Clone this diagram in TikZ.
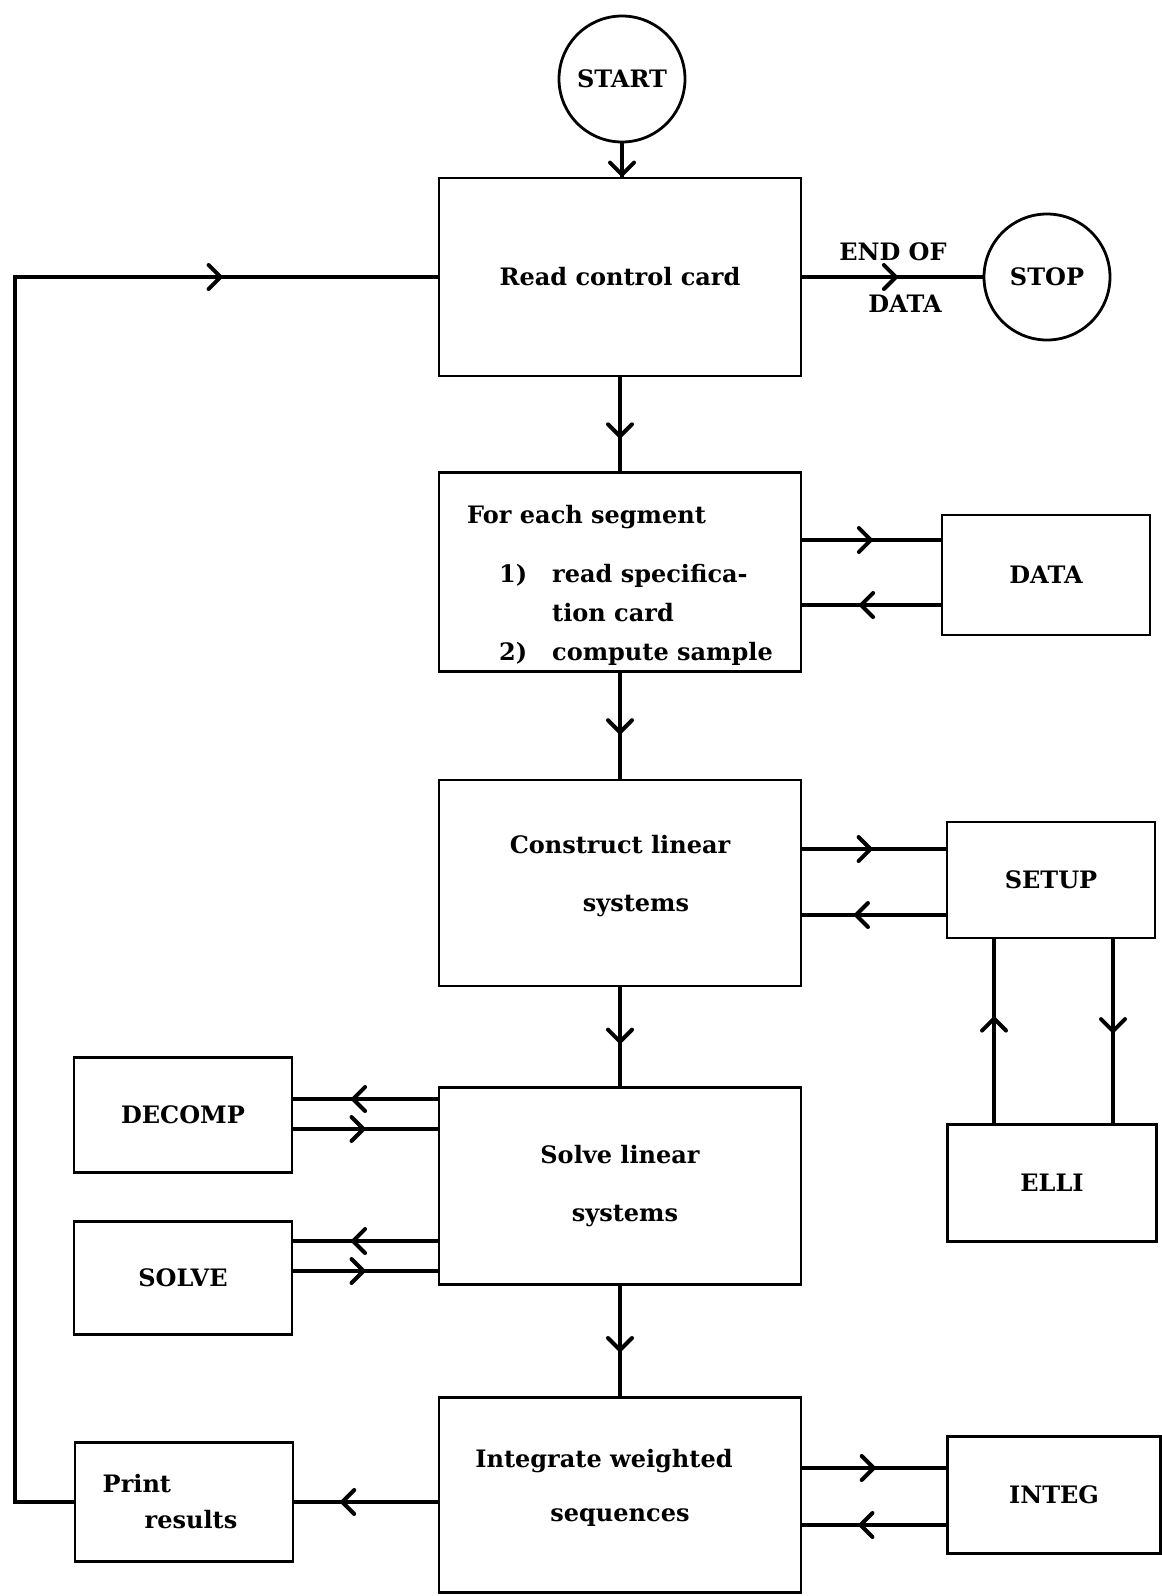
\documentclass[tikz,border=0pt]{standalone}
\usepackage{fontspec}
\setmainfont{DejaVu Serif}
\usetikzlibrary{arrows.meta,positioning,decorations.markings}

\begin{document}
\begin{tikzpicture}[x=1pt,y=-1pt,
  font=\fontsize{24}{36}\selectfont\bfseries,
  box/.style={draw,line width=2.8pt,minimum width=362pt,minimum height=198pt,inner sep=0pt},
  sub/.style={draw,line width=2.8pt,minimum width=212pt,minimum height=117pt,inner sep=0pt},
  term/.style={draw,circle,line width=2.8pt,minimum size=126pt,inner sep=0pt},
  line/.style={line width=3.8pt,line join=miter},
  flow/.style={line,postaction={decorate},
    decoration={markings,mark=at position #1 with {\arrow{Straight Barb[length=12pt,width=24pt,line width=4pt,round]}}}}
]
  \useasboundingbox (0,0) rectangle (1162,1596);

  % main column
  \node[term] (start) at (622,79) {START};
  \node[box] (read) at (620,277) {Read control card};
  \node[term] (stop) at (1047,277) {STOP};
  \node[box,minimum height=199pt,align=left,font=\fontsize{24}{39}\selectfont\bfseries] (seg) at (620,572)
    {\rule{0pt}{44pt}For each segment\\[20pt]
    \hspace*{32pt}\makebox[53pt][l]{1)}read specifica-\\
    \hspace*{85pt}tion card\\
    \hspace*{32pt}\makebox[53pt][l]{2)}compute sample};
  \node[box,minimum height=206pt,align=center] (cons) at (620,883) {Construct linear\\[22pt]\hspace*{32pt}systems\rule[-20pt]{0pt}{0pt}};
  \node[box,minimum height=197pt,align=center] (solve) at (620,1186) {Solve linear\\[22pt]\hspace*{10pt}systems};
  \node[box,minimum height=195pt,align=center] (integ) at (620,1495) {Integrate weighted\hspace*{32pt}\\[18pt]sequences\rule[-20pt]{0pt}{0pt}};

  % subroutines
  \node[sub,minimum width=208pt,minimum height=120pt] (data) at (1046,575) {DATA};
  \node[sub,minimum width=208pt,minimum height=116pt] (setup) at (1051,880) {SETUP};
  \node[sub,minimum width=209pt] (elli) at (1052,1183) {ELLI};
  \node[sub,minimum width=218pt,minimum height=115pt] (decomp) at (183,1115) {DECOMP};
  \node[sub,minimum width=218pt,minimum height=113pt] (solvesub) at (183,1278) {SOLVE};
  \node[sub,minimum width=213pt] (integsub) at (1054,1495) {INTEG};
  \node[sub,minimum width=218pt,minimum height=119pt,align=left] (print) at (184,1502) {Print\\\hspace*{42pt}results\hspace*{28pt}};

  \node (eod) at (893,252) {END OF};
  \node (eodb) at (905,304) {DATA};
  \coordinate (loop) at (15,277);

  % flow
  \draw[flow=1] (start.south) -- (start.south |- read.north);
  \draw[flow=.65] (read) -- (seg);
  \draw[flow=.58] (seg) -- (cons);
  \draw[flow=.57] (cons) -- (solve);
  \draw[flow=.6] (solve) -- (integ);
  \draw[flow=.53] (read.east) -- (stop.west);
  \draw[flow=.68] (integ.west |- print.east) -- (print.east);
  \draw[flow=.874] (print.west) -| (loop) -- (loop -| read.west);

  % calls
  \draw[flow=.51] ([yshift=35pt]data.west -| seg.east) -- ([yshift=35pt]data.west);
  \draw[flow=.59] ([yshift=-30pt]data.west) -- ([yshift=-30pt]data.west -| seg.east);
  \draw[flow=.49] ([yshift=31pt]setup.west -| cons.east) -- ([yshift=31pt]setup.west);
  \draw[flow=.64] ([yshift=-35pt]setup.west) -- ([yshift=-35pt]setup.west -| cons.east);
  \draw[flow=.58] ([xshift=-58pt]elli.north) -- ([xshift=-58pt]elli.north |- setup.south);
  \draw[flow=.51] ([xshift=62pt]setup.south) -- ([xshift=62pt]setup.south |- elli.north);
  \draw[flow=.6] ([yshift=16pt]decomp.east -| solve.west) -- ([yshift=16pt]decomp.east);
  \draw[flow=.5] ([yshift=-14pt]decomp.east) -- ([yshift=-14pt]decomp.east -| solve.west);
  \draw[flow=.6] ([yshift=37pt]solvesub.east -| solve.west) -- ([yshift=37pt]solvesub.east);
  \draw[flow=.5] ([yshift=7pt]solvesub.east) -- ([yshift=7pt]solvesub.east -| solve.west);
  \draw[flow=.51] ([yshift=27pt]integsub.west -| integ.east) -- ([yshift=27pt]integsub.west);
  \draw[flow=.61] ([yshift=-30pt]integsub.west) -- ([yshift=-30pt]integsub.west -| integ.east);
\end{tikzpicture}
\end{document}
